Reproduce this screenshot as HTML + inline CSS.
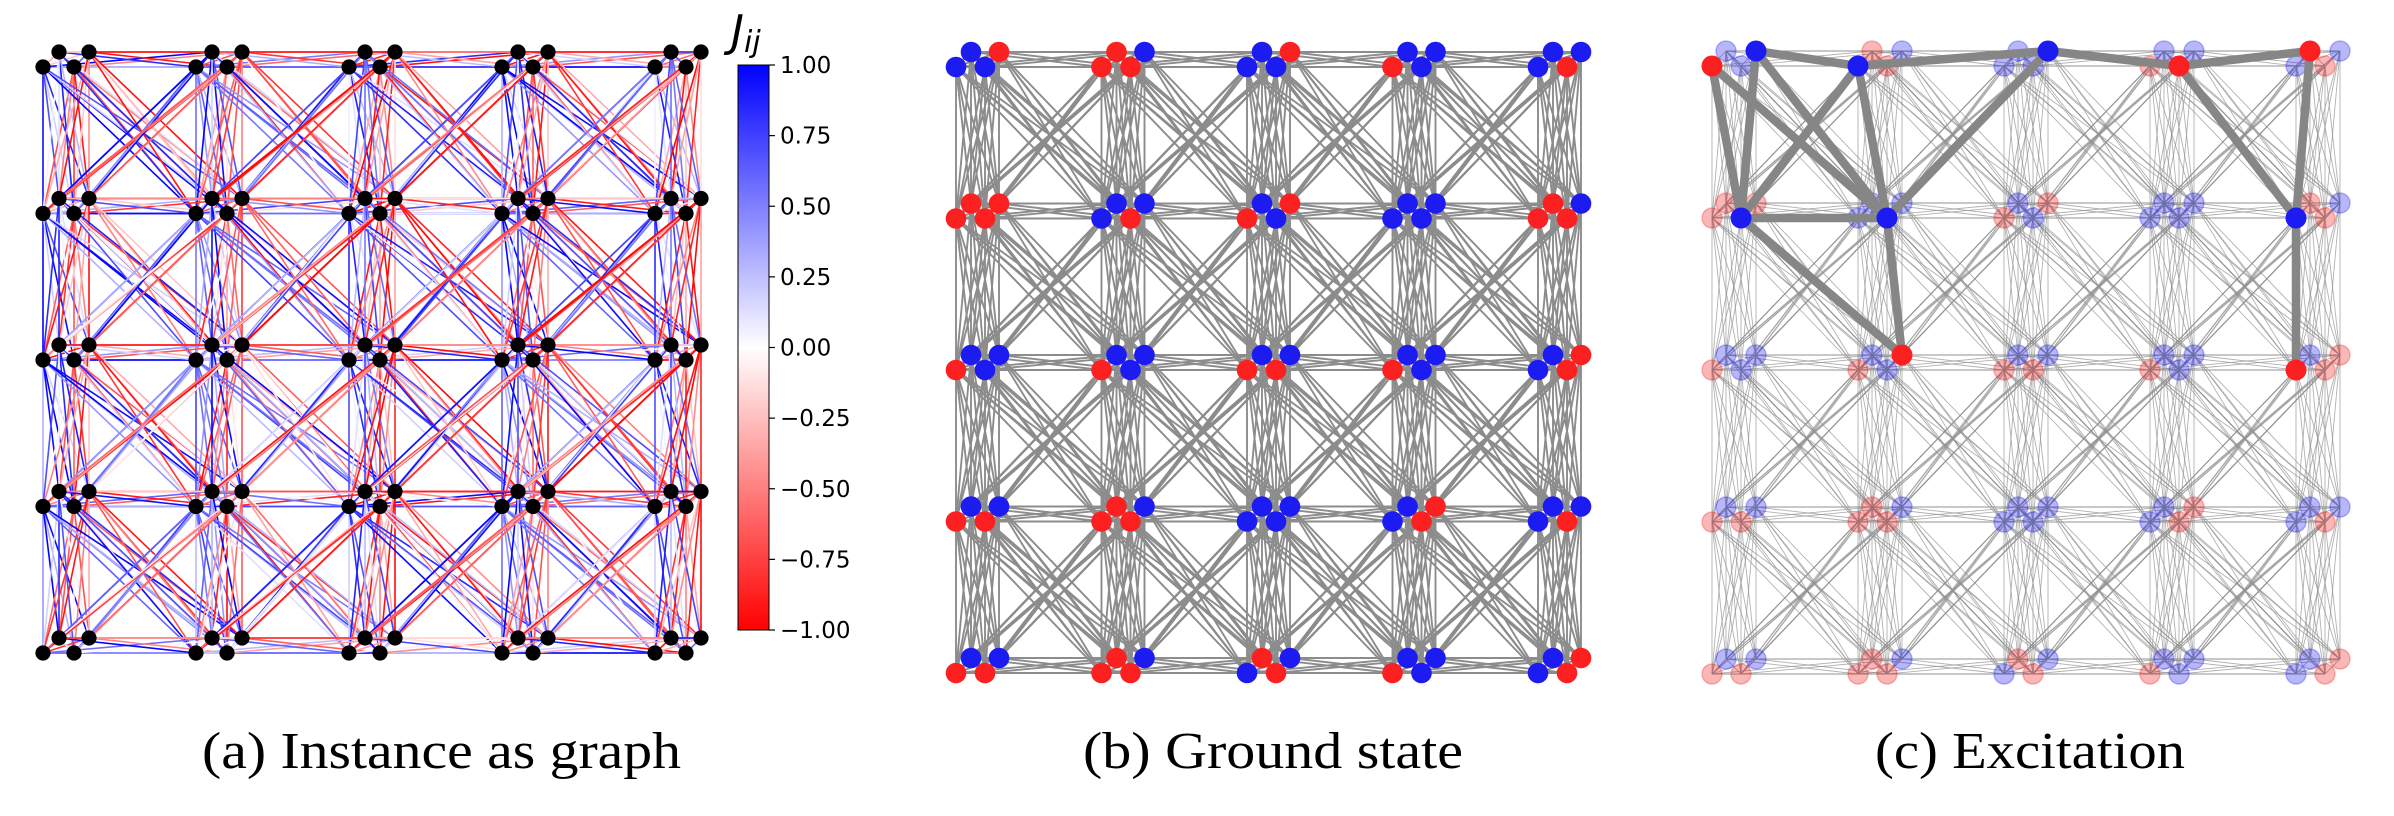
<!DOCTYPE html>
<html><head><meta charset="utf-8">
<style>
html,body{margin:0;padding:0;background:#fff;}
svg{display:block;}
.cap{font-family:"Liberation Serif",serif;font-size:52px;fill:#000;}
.tick{font-family:"DejaVu Sans","Liberation Sans",sans-serif;font-size:23px;fill:#000;}
</style></head>
<body>
<svg id="fig" width="2394" height="816" viewBox="0 0 2394 816" xmlns="http://www.w3.org/2000/svg">
<defs>
<linearGradient id="bwr" x1="0" y1="1" x2="0" y2="0">
<stop offset="0" stop-color="#ff0000"/><stop offset="0.5" stop-color="#ffffff"/><stop offset="1" stop-color="#0000ff"/>
</linearGradient>
</defs>
<g id="panelA"></g>
<g id="panelB"></g>
<g id="panelC"></g>
<g id="cbar"></g>
<text class="cap" x="202" y="768" textLength="479" lengthAdjust="spacingAndGlyphs">(a) Instance as graph</text>
<text class="cap" x="1273" y="768" text-anchor="middle" textLength="380" lengthAdjust="spacingAndGlyphs">(b) Ground state</text>
<text class="cap" x="1875" y="768" textLength="310" lengthAdjust="spacingAndGlyphs">(c) Excitation</text>
</svg>
<script>
// spins per cluster row-major (5x5), node order [lower-left, lower-right, upper-left, upper-right]; 1 = blue, -1 = red
const spins = [
 [1,1,1,-1],[-1,-1,-1,1],[1,1,1,-1],[-1,1,1,1],[1,-1,1,1],
 [-1,-1,-1,-1],[1,-1,1,1],[-1,1,1,-1],[1,1,1,1],[-1,-1,-1,1],
 [-1,1,1,1],[-1,1,1,1],[-1,-1,1,1],[-1,1,1,1],[1,-1,1,-1],
 [-1,-1,1,1],[-1,-1,-1,1],[1,1,1,1],[1,-1,1,-1],[1,-1,1,1],
 [-1,-1,1,1],[-1,-1,-1,1],[1,-1,-1,1],[-1,1,1,1],[1,-1,1,-1]
];
// flipped spins in excitation: [row, col, node]
const flipped = [[0,0,0],[0,0,3],[0,1,0],[0,2,3],[0,3,1],[0,4,2],[1,0,1],[1,1,1],[2,1,3],[1,4,0],[2,4,0]];
// excitation edges (pairs of indices into flipped)
const exEdges = [[0,6],[0,7],[1,6],[1,2],[1,7],[2,6],[2,7],[2,3],[3,7],[3,4],[4,5],[4,9],[5,9],[9,10],[6,7],[6,8],[7,8]];
// coupling seed values used to colour edges of panel (a)
const jSeed = [0.83,-0.91,0.27,-0.45,0.62,-0.12,0.95,-0.68,0.05,-0.33,0.74,-0.97,0.41,-0.58,0.18,-0.79,0.88,-0.22,0.53,-0.86,0.31,-0.04,0.69,-0.49,0.12,-0.93,0.57,-0.37,0.99,-0.64];
const cbTicks = [1.00,0.75,0.50,0.25,0.00,-0.25,-0.50,-0.75,-1.00];

const NS="http://www.w3.org/2000/svg";
function mk(tag,attrs,parent){const e=document.createElementNS(NS,tag);for(const k in attrs)e.setAttribute(k,attrs[k]);parent.appendChild(e);return e;}

const panels={
 a:{ox:43,dx:153,oy:67,dy:146.5,off:[[0,0],[31,0],[16,-15],[46,-15]]},
 b:{ox:956,dx:145.5,oy:67,dy:151.5,off:[[0,0],[29,0],[15,-15],[43,-15]]},
 c:{ox:1712,dx:146,oy:66,dy:152,off:[[0,0],[29,0],[14,-15],[44,-15]]}
};
function pos(p,r,c,k){return [p.ox+c*p.dx+p.off[k][0], p.oy+r*p.dy+p.off[k][1]];}

// edge structure
const edges=[];
for(let r=0;r<5;r++)for(let c=0;c<5;c++){
 for(let i=0;i<4;i++)for(let j=i+1;j<4;j++)edges.push([r,c,i,r,c,j]);
 const nb=[[0,1],[1,0],[1,1],[1,-1]];
 for(const [drr,dcc] of nb){const r2=r+drr,c2=c+dcc;if(r2>4||c2<0||c2>4)continue;
  for(let i=0;i<4;i++)for(let j=0;j<4;j++){
   if(drr===0 && ((i<2)!==(j<2)) && (i+j)%2===1) continue;
   edges.push([r,c,i,r2,c2,j]);}
 }
}
function bwr(v){v=Math.max(-1,Math.min(1,v));
 if(v>=0){const t=1-v;return `rgb(${Math.round(255*t)},${Math.round(255*t)},255)`;}
 const t=1+v;return `rgb(255,${Math.round(255*t)},${Math.round(255*t)})`;}

// Panel A
const gA=document.getElementById('panelA');
edges.forEach((e,idx)=>{
 const p=panels.a;const [x1,y1]=pos(p,e[0],e[1],e[2]);const [x2,y2]=pos(p,e[3],e[4],e[5]);
 const J=jSeed[(idx*7+e[2]*3+e[5])%jSeed.length];
 const l=mk('line',{x1,y1,x2,y2,stroke:bwr(J),'stroke-width':1.6},gA);
 
 
});
for(let r=0;r<5;r++)for(let c=0;c<5;c++)for(let k=0;k<4;k++){
 const [x,y]=pos(panels.a,r,c,k);
 const n=mk('circle',{cx:x,cy:y,r:7.6,fill:'#000'},gA);
 
 
}

const BLUE='#1c1cf2',RED='#fd2020';
// Panel B
const gB=document.getElementById('panelB');
edges.forEach(e=>{const p=panels.b;const [x1,y1]=pos(p,e[0],e[1],e[2]);const [x2,y2]=pos(p,e[3],e[4],e[5]);
 const l=mk('line',{x1,y1,x2,y2,stroke:'#8c8c8c','stroke-width':1.9},gB);
 
 
});
for(let r=0;r<5;r++)for(let c=0;c<5;c++)for(let k=0;k<4;k++){
 const [x,y]=pos(panels.b,r,c,k);const s=spins[r*5+c][k];
 const n=mk('circle',{cx:x,cy:y,r:10.3,fill:s>0?BLUE:RED},gB);
 
 
}

// Panel C
const gC=document.getElementById('panelC');
edges.forEach(e=>{const p=panels.c;const [x1,y1]=pos(p,e[0],e[1],e[2]);const [x2,y2]=pos(p,e[3],e[4],e[5]);
 const l=mk('line',{x1,y1,x2,y2,stroke:'#909090','stroke-width':0.9,'stroke-opacity':0.7},gC);
 
 
});
const isFlip=(r,c,k)=>flipped.some(f=>f[0]===r&&f[1]===c&&f[2]===k);
for(let r=0;r<5;r++)for(let c=0;c<5;c++)for(let k=0;k<4;k++){
 if(isFlip(r,c,k))continue;
 const [x,y]=pos(panels.c,r,c,k);const s=spins[r*5+c][k];const col=s>0?'#2020f0':'#f02020';
 const n=mk('circle',{cx:x,cy:y,r:10,fill:col,'fill-opacity':0.32,stroke:col,'stroke-opacity':0.3,'stroke-width':1.5},gC);
 
 
}
exEdges.forEach(([a,b])=>{const fa=flipped[a],fb=flipped[b];
 const [x1,y1]=pos(panels.c,fa[0],fa[1],fa[2]);const [x2,y2]=pos(panels.c,fb[0],fb[1],fb[2]);
 const l=mk('line',{x1,y1,x2,y2,stroke:'#868686','stroke-width':8.5},gC);
 
 
});
flipped.forEach(f=>{const [x,y]=pos(panels.c,f[0],f[1],f[2]);const s=-spins[f[0]*5+f[1]][f[2]];
 const n=mk('circle',{cx:x,cy:y,r:10.5,fill:s>0?BLUE:RED},gC);
 
 
});

// Colorbar
const gCb=document.getElementById('cbar');
const cbX=738,cbW=31,cbTop=65,cbBot=630;
const yv=v=>cbTop+(1-v)/2*(cbBot-cbTop);
const rect=mk('rect',{x:cbX,y:cbTop,width:cbW,height:cbBot-cbTop,fill:'url(#bwr)',stroke:'#000','stroke-width':1},gCb);


cbTicks.forEach(v=>{const y=yv(v);
 const t=mk('line',{x1:cbX+cbW,y1:y,x2:cbX+cbW+6,y2:y,stroke:'#000','stroke-width':1.2},gCb);
 
 
 const lb=mk('text',{x:cbX+cbW+11,y:y+8,class:'tick'},gCb);
 lb.textContent=(v<0?'\u2212':'')+Math.abs(v).toFixed(2);
 
 
});
const jl=mk('text',{x:731,y:46,'font-family':'DejaVu Sans, sans-serif','font-size':'44px','font-style':'italic'},gCb);
jl.textContent='J';


const jsub=mk('tspan',{'font-size':'30px',dy:'6'},jl);
jsub.textContent='ij';
</script>
</body></html>
